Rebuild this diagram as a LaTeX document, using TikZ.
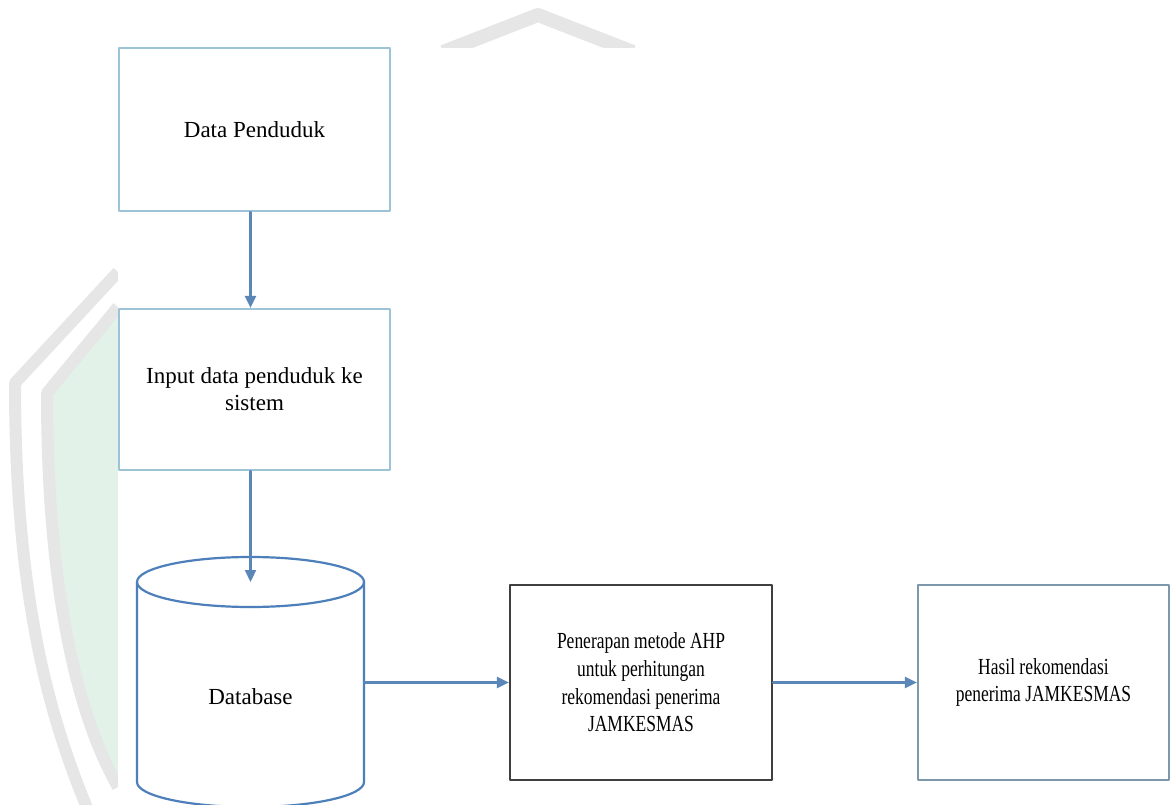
\documentclass[tikz,border=0pt]{standalone}
\usepackage{fontspec}
\setmainfont{Liberation Serif}
\newfontfamily\narrowserif[FakeStretch=0.76]{Liberation Serif}
\usetikzlibrary{arrows.meta}
\definecolor{flowblue}{HTML}{5A87B8}
\definecolor{paleblue}{HTML}{9DC3D6}
\definecolor{dbblue}{HTML}{4D7FBA}
\definecolor{darkline}{HTML}{3F3F3F}
\definecolor{slateline}{HTML}{7D97AB}
\definecolor{markgray}{HTML}{E6E6E6}
\definecolor{markgreen}{HTML}{E2F2E9}
\tikzset{
  every picture/.style={line join=round, line cap=round, >={Triangle[width=11pt,length=12pt]}},
  procbox/.style={draw, line width=2.2pt, align=center, inner sep=0pt, text=black},
  bigtext/.style={font=\fontsize{23}{27}\selectfont},
  narrowtext/.style={font=\narrowserif\fontsize{23}{27.7}\selectfont},
  flow/.style={->, flowblue, line width=2.2pt},
  cyl/.style={dbblue, line width=2.2pt},
}

\begin{document}
\begin{tikzpicture}[x=1pt,y=-1pt]
\useasboundingbox (0,0) rectangle (1171,805);
% faint mark behind the page
\fill[markgreen] (118,307) -- (47,393) .. controls (47,600) and (80,720) .. (118,787) -- cycle;
\draw[markgray,line width=12pt,line cap=butt] (118,272) -- (15,383) .. controls (15,600) and (50,720) .. (90,815);
\draw[markgray,line width=12pt,line cap=butt] (118,307) -- (47,393) .. controls (47,600) and (80,720) .. (118,787);
\draw[markgray,line width=14pt,line cap=butt] (443,52) -- (538,15) -- (633,52);
\fill[white] (118,48) rectangle (1171,805);

% boxes
\node[procbox,draw=paleblue,bigtext,minimum width=271pt,minimum height=163pt] (penduduk) at (254.5,129.5) {Data Penduduk};
\node[procbox,draw=paleblue,bigtext,minimum width=271pt,minimum height=161pt] (input) at (254.5,389.5) {Input data penduduk ke\\sistem};

% database
\coordinate (dbTop) at (250.5,582);
\draw[cyl] (dbTop) ellipse [x radius=113.5pt, y radius=25pt];
\draw[cyl] (137,582) -- (137,782) arc[start angle=180, end angle=360, x radius=113.5pt, y radius=25pt] -- (364,582);
\node[minimum width=227pt,minimum height=200pt,inner sep=0pt] (db) at (250.5,682.5) {};
\node[bigtext] (dbLabel) at (250.5,697) {Database};

\node[procbox,draw=darkline,narrowtext,minimum width=262pt,minimum height=195pt] (ahp) at (641,682.5) {Penerapan metode AHP\\untuk perhitungan\\rekomendasi penerima\\JAMKESMAS};
\node[procbox,draw=slateline,narrowtext,minimum width=251pt,minimum height=195pt] (hasil) at (1043.5,682.5) {Hasil rekomendasi\\penerima JAMKESMAS};

% arrows
\draw[flow] (penduduk.south -| dbTop) -- (input.north -| dbTop);
\draw[flow] (input.south -| dbTop) -- (dbTop);
\draw[flow] (db.east) -- (ahp.west);
\draw[flow] (ahp) -- (hasil);
\end{tikzpicture}
\end{document}
